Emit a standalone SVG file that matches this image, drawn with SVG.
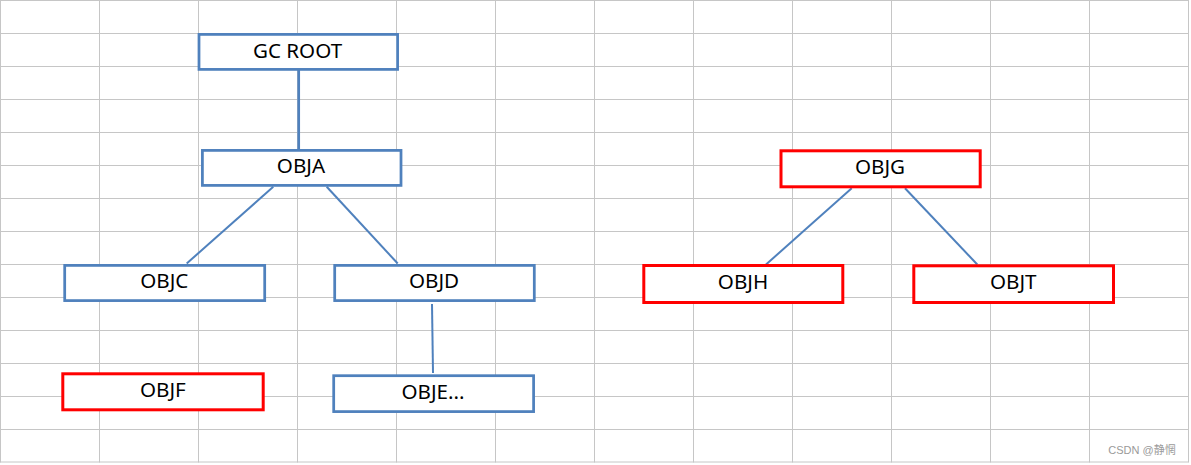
<svg xmlns="http://www.w3.org/2000/svg" width="1191" height="465" viewBox="0 0 1191 465">
  <style>
    .grid line { stroke: #c6c6c6; stroke-width: 1; }
    .blue { fill: #ffffff; stroke: #4F81BD; stroke-width: 2.75; }
    .red { fill: #ffffff; stroke: #ff0000; stroke-width: 3; }
    .lbl { font-family: "Noto Sans", "DejaVu Sans", sans-serif; font-size: 20.6px; fill: #000000; text-anchor: middle; }
    .conn line { stroke: #4F81BD; stroke-width: 2; stroke-linecap: butt; }
    .wm { font-family: "Liberation Sans", "Noto Sans CJK SC", sans-serif; font-size: 11px; fill: #9a9a9a; }
  </style>
  <rect x="0" y="0" width="1191" height="465" fill="#ffffff"/>
  <g class="grid">
    <line x1="0.5" y1="0" x2="0.5" y2="462.5"/>
    <line x1="99.5" y1="0" x2="99.5" y2="462.5"/>
    <line x1="198.5" y1="0" x2="198.5" y2="462.5"/>
    <line x1="297.5" y1="0" x2="297.5" y2="462.5"/>
    <line x1="396.5" y1="0" x2="396.5" y2="462.5"/>
    <line x1="495.5" y1="0" x2="495.5" y2="462.5"/>
    <line x1="594.5" y1="0" x2="594.5" y2="462.5"/>
    <line x1="693.5" y1="0" x2="693.5" y2="462.5"/>
    <line x1="792.5" y1="0" x2="792.5" y2="462.5"/>
    <line x1="891.5" y1="0" x2="891.5" y2="462.5"/>
    <line x1="990.5" y1="0" x2="990.5" y2="462.5"/>
    <line x1="1089.5" y1="0" x2="1089.5" y2="462.5"/>
    <line x1="1188.5" y1="0" x2="1188.5" y2="462.5"/>
    <line x1="0" y1="0.5" x2="1188.5" y2="0.5"/>
    <line x1="0" y1="33.5" x2="1188.5" y2="33.5"/>
    <line x1="0" y1="66.5" x2="1188.5" y2="66.5"/>
    <line x1="0" y1="99.5" x2="1188.5" y2="99.5"/>
    <line x1="0" y1="132.5" x2="1188.5" y2="132.5"/>
    <line x1="0" y1="165.5" x2="1188.5" y2="165.5"/>
    <line x1="0" y1="198.5" x2="1188.5" y2="198.5"/>
    <line x1="0" y1="231.5" x2="1188.5" y2="231.5"/>
    <line x1="0" y1="264.5" x2="1188.5" y2="264.5"/>
    <line x1="0" y1="297.5" x2="1188.5" y2="297.5"/>
    <line x1="0" y1="330.5" x2="1188.5" y2="330.5"/>
    <line x1="0" y1="363.5" x2="1188.5" y2="363.5"/>
    <line x1="0" y1="396.5" x2="1188.5" y2="396.5"/>
    <line x1="0" y1="429.5" x2="1188.5" y2="429.5"/>
    <line x1="0" y1="462" x2="1188.5" y2="462"/>
  </g>
  <g id="connectors" class="conn">
    <line x1="298.7" y1="70" x2="298.7" y2="150" style="stroke-width:2.7"/>
    <line x1="273.3" y1="186.7" x2="186.7" y2="263.5"/>
    <line x1="326.7" y1="186.7" x2="397.7" y2="263.5"/>
    <line x1="432" y1="304" x2="433" y2="373"/>
    <line x1="851.7" y1="188.3" x2="766" y2="264.5"/>
    <line x1="905" y1="188.3" x2="977.3" y2="264.5"/>
  </g>
  <g id="gcroot">
    <rect class="blue" x="199" y="34.4" width="198.6" height="35"/>
    <text class="lbl" x="297.5" y="57.5">GC ROOT</text>
  </g>
  <g id="obja">
    <rect class="blue" x="202.4" y="150.4" width="198.6" height="35"/>
    <text class="lbl" x="301" y="172.7">OBJA</text>
  </g>
  <g id="objc">
    <rect class="blue" x="64.7" y="265.4" width="200" height="35.2"/>
    <text class="lbl" x="164.3" y="287.5">OBJC</text>
  </g>
  <g id="objd">
    <rect class="blue" x="334.7" y="265.4" width="199.6" height="35.2"/>
    <text class="lbl" x="434" y="287.5">OBJD</text>
  </g>
  <g id="obje">
    <rect class="blue" x="333.7" y="375.7" width="199.9" height="35.9"/>
    <text class="lbl" x="433" y="398.5">OBJE...</text>
  </g>
  <g id="objf">
    <rect class="red" x="62.8" y="373.8" width="200.4" height="36"/>
    <text class="lbl" x="162.8" y="396.7">OBJF</text>
  </g>
  <g id="objg">
    <rect class="red" x="781" y="150.8" width="199.2" height="36"/>
    <text class="lbl" x="880" y="173.7">OBJG</text>
  </g>
  <g id="objh">
    <rect class="red" x="643.8" y="265.5" width="199" height="37"/>
    <text class="lbl" x="743" y="288.7">OBJH</text>
  </g>
  <g id="objt">
    <rect class="red" x="913.8" y="265.8" width="199.7" height="36.7"/>
    <text class="lbl" x="1013.3" y="288.7">OBJT</text>
  </g>
  <text class="wm" x="1108.3" y="454">CSDN @静惘</text>
</svg>
